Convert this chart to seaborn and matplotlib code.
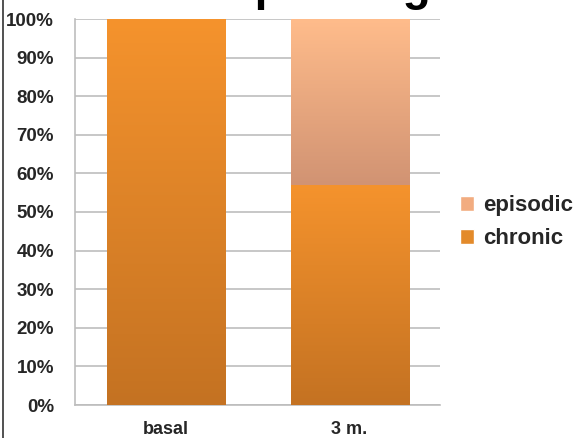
import numpy as np
import pandas as pd
import matplotlib
matplotlib.use("Agg")
import matplotlib.pyplot as plt
import seaborn as sns
from matplotlib.colors import LinearSegmentedColormap
from matplotlib.lines import Line2D
from matplotlib.patches import Rectangle

# ---- data ----
categories = ["basal", "3 m."]
chronic = [100, 57]
episodic = [0, 43]
series_names = ["episodic", "chronic"]
y_ticks = [0, 10, 20, 30, 40, 50, 60, 70, 80, 90, 100]
title_text = "Group change"

# ---- style ----
sns.set_theme(style="white")
plt.rcParams["font.family"] = ["Liberation Sans", "DejaVu Sans"]

chronic_top, chronic_bot = "#F5932D", "#C47222"
epis_top, epis_bot = "#FFBC8B", "#D19373"

fig = plt.figure(figsize=(5.77, 4.38), dpi=100)
ax = fig.add_axes([75/577, 1-405/438, (440-75)/577, (405-19)/438])

df = pd.DataFrame({"cat": categories,
                   "total": [c + e for c, e in zip(chronic, episodic)],
                   "chronic": chronic})

bw = 118/183.5
sns.barplot(data=df, x="cat", y="total", color=epis_top, width=bw, ax=ax,
            zorder=2, linewidth=0)
n_total = len(ax.patches)
sns.barplot(data=df, x="cat", y="chronic", color=chronic_top, width=bw, ax=ax,
            zorder=3, linewidth=0)

# gradient fills clipped to each bar
patches = list(ax.patches)
for i, p in enumerate(patches):
    x0, y0 = p.get_x(), p.get_y()
    w, h = p.get_width(), p.get_height()
    if h <= 0:
        continue
    if i < n_total:
        lo = chronic[i]
        hi = chronic[i] + episodic[i]
        if hi - lo <= 0:
            p.set_visible(False)
            continue
        cmap = LinearSegmentedColormap.from_list("e", [epis_bot, epis_top])
        zo = 2.1
    else:
        lo, hi = 0, h
        cmap = LinearSegmentedColormap.from_list("c", [chronic_bot, chronic_top])
        zo = 3.1
    grad = np.linspace(0, 1, 256).reshape(-1, 1)
    im = ax.imshow(grad, cmap=cmap, aspect="auto", origin="lower",
                   extent=[x0, x0 + w, lo, hi], zorder=zo, interpolation="bilinear")
    clip = Rectangle((x0, lo), w, hi - lo, transform=ax.transData)
    im.set_clip_path(clip)
    p.set_alpha(0)

ax.set_xlim(-0.496, 1.493)
ax.set_ylim(0, 100)
ax.set_yticks(y_ticks)
ax.set_yticklabels([f"{t}%" for t in y_ticks], fontsize=13.5, fontweight="bold")
ax.set_xticks(range(len(categories)))
ax.set_xticklabels(categories, fontsize=13, fontweight="bold")
ax.tick_params(axis="y", length=0, pad=15)
ax.tick_params(axis="x", length=0, pad=11.5)
ax.set_xlabel("")
ax.set_ylabel("")
ax.yaxis.grid(True, color="#BDBDBD", linewidth=1.2, zorder=0)
ax.set_axisbelow(True)
for s in ["top", "right"]:
    ax.spines[s].set_visible(False)
for s in ["left", "bottom"]:
    ax.spines[s].set_color("#BDBDBD")
    ax.spines[s].set_linewidth(1.2)
ax.patch.set_alpha(0)

# legend
handles = [Rectangle((0, 0), 1, 1, facecolor="#F2AC80"),
           Rectangle((0, 0), 1, 1, facecolor="#E38A2A")]
leg = fig.legend(handles, series_names, loc="center left",
                 bbox_to_anchor=(460/577, 1-222/438), frameon=False,
                 prop={"weight": "bold", "size": 16}, handlelength=0.65,
                 handleheight=0.65, handletextpad=0.4, labelspacing=0.55,
                 borderaxespad=0, borderpad=0)

# title, mostly above the top edge as in the reference
fig.text(145/577, 1.0, title_text, ha="left", va="baseline",
         fontsize=33, fontweight="bold", color="black")

# left figure border line
fig.add_artist(Line2D([2.5/577, 2.5/577], [0, 1], transform=fig.transFigure,
                      color="#333333", linewidth=1.2))

fig.savefig("out.png", dpi=100)
